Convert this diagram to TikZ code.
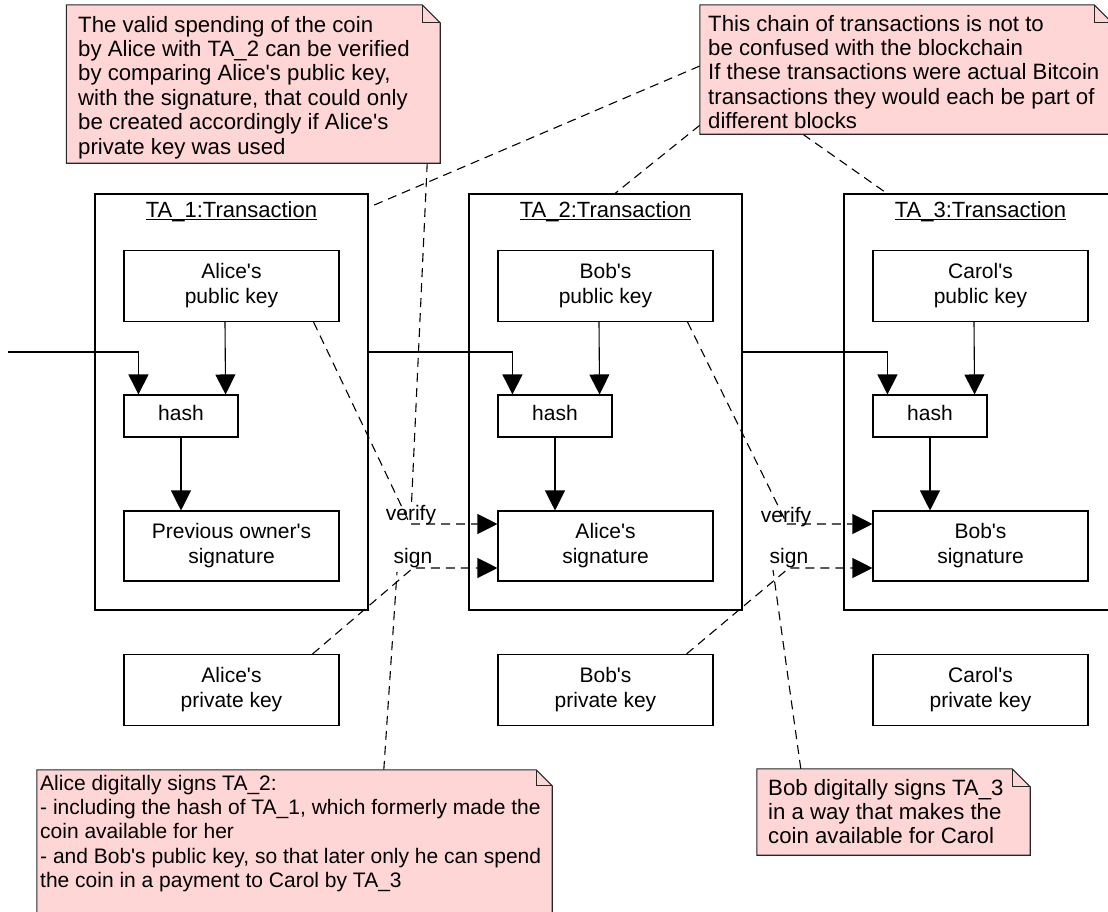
\documentclass[tikz,border=0pt]{standalone}
\usepackage{fontspec}
\setmainfont{Liberation Sans}
\usetikzlibrary{arrows.meta}
\definecolor{notepink}{RGB}{255,214,214}
\newcommand\dfont{\fontsize{21pt}{24.4pt}\selectfont}
\newcommand\nfont{\fontsize{22.2pt}{24.4pt}\selectfont}
\newcommand\tfont{\fontsize{22pt}{24.4pt}\selectfont}
\newcommand\q{\textquotesingle}
\newcommand\bx[1]{\raisebox{3pt}{\begin{tabular}{@{}c@{}}#1\end{tabular}}}
\newcommand\nt[1]{\begin{tabular}[t]{@{}l@{}}#1\end{tabular}}
\newcommand\ulin[1]{\setbox0\hbox{#1}\rlap{\rule[-2.5pt]{\wd0}{1pt}}\box0}
\newcommand\notepath[2]{%
  \draw[notebg] (#1.south west) -- (#1.north west) -- ([xshift=-#2]#1.north east)
    -- ([yshift=-#2]#1.north east) -- (#1.south east) -- cycle;
  \draw[notefold] ([xshift=-#2]#1.north east) -- ([xshift=-#2,yshift=-#2]#1.north east)
    -- ([yshift=-#2]#1.north east);}
\tikzset{
  tabox/.style={draw, line width=1.1pt, minimum width=273pt, minimum height=416pt, inner sep=0pt},
  kbox/.style={draw, line width=1.1pt, minimum width=215pt, minimum height=71pt, inner sep=0pt, font=\dfont},
  hbox/.style={draw, line width=1.1pt, minimum width=114pt, minimum height=42pt, inner sep=0pt, font=\dfont},
  tip/.style={-{Triangle[width=20pt,length=20pt]}},
  arr/.style={line width=1.1pt, tip},
  darr/.style={line width=1.1pt, dash pattern=on 9pt off 6pt, tip},
  dline/.style={line width=1.1pt, dash pattern=on 9pt off 6pt},
  notenode/.style={inner sep=0pt},
  notebg/.style={draw=black!85, line width=1.1pt, fill=notepink},
  notefold/.style={draw=black!85, line width=1.1pt},
  notetext/.style={font=\nfont, inner sep=0pt, anchor=base west},
  lbl/.style={font=\dfont, inner sep=0pt, anchor=base},
  ttl/.style={font=\tfont, inner sep=0pt, anchor=base},
}
\begin{document}
\begin{tikzpicture}[x=1pt,y=-1pt]
\useasboundingbox (0,0) rectangle (1108,911);
\clip (0,0) rectangle (1108,911);

% transactions
\node[tabox] (ta1) at (231.5,402) {};
\node[tabox] (ta2) at (605.5,402) {};
\node[tabox] (ta3) at (980.5,402) {};
\node[ttl] (t1) at (231.5,217) {\ulin{TA\_1:Transaction}};
\node[ttl] (t2) at (605.5,217) {\ulin{TA\_2:Transaction}};
\node[ttl] (t3) at (980.5,217) {\ulin{TA\_3:Transaction}};

% public keys
\node[kbox] (pk1) at (231.5,286) {\bx{Alice\q s\\public key}};
\node[kbox] (pk2) at (605.5,286) {\bx{Bob\q s\\public key}};
\node[kbox] (pk3) at (980.5,286) {\bx{Carol\q s\\public key}};
% hashes
\node[hbox] (h1) at (181,416) {\bx{hash}};
\node[hbox] (h2) at (555,416) {\bx{hash}};
\node[hbox] (h3) at (930,416) {\bx{hash}};
% signatures
\node[kbox, minimum height=70pt] (s1) at (231.5,546) {\bx{Previous owner\q s\\signature}};
\node[kbox, minimum height=70pt] (s2) at (605.5,546) {\bx{Alice\q s\\signature}};
\node[kbox, minimum height=70pt] (s3) at (980.5,546) {\bx{Bob\q s\\signature}};
% private keys
\node[kbox] (k1) at (231.5,690) {\bx{Alice\q s\\private key}};
\node[kbox] (k2) at (605.5,690) {\bx{Bob\q s\\private key}};
\node[kbox] (k3) at (980.5,690) {\bx{Carol\q s\\private key}};

% notes (frames)
\node[notenode, minimum width=373.5pt, minimum height=158pt] (n1) at (253.25,84) {};
\node[notenode, minimum width=412pt, minimum height=129pt] (n2) at (906,69.5) {};
\node[notenode, minimum width=515pt, minimum height=145pt] (n3) at (294.5,842.5) {};
\node[notenode, minimum width=273pt, minimum height=86pt] (n4) at (893.5,812) {};

% chain arrows
\coordinate (in0) at (8,352);
\draw[arr] (in0) -| ([xshift=15pt]h1.north west);
\draw[arr] (ta1.east |- in0) -| ([xshift=15pt]h2.north west);
\draw[arr] (ta2.east |- in0) -| ([xshift=15pt]h3.north west);

% inside transactions
\draw[arr] ([xshift=-6.5pt]pk1.south) -- ([xshift=-13pt]h1.north east);
\draw[arr] ([xshift=-6.5pt]pk2.south) -- ([xshift=-13pt]h2.north east);
\draw[arr] ([xshift=-6.5pt]pk3.south) -- ([xshift=-13pt]h3.north east);
\draw[arr] (h1.south) -- (h1.south |- s1.north);
\draw[arr] (h2.south) -- (h2.south |- s2.north);
\draw[arr] (h3.south) -- (h3.south |- s3.north);

% verify / sign links
\coordinate (vb2) at (410,524);
\coordinate (sb2) at (413,568);
\coordinate (vb3) at (787,524);
\coordinate (sb3) at (789,568);
\draw[darr] ([xshift=-26pt]pk1.south east) -- (vb2) -- (vb2 -| s2.west);
\draw[darr] ([xshift=-27pt]k1.north east) -- (sb2) -- (sb2 -| s2.west);
\draw[darr] ([xshift=-26pt]pk2.south east) -- (vb3) -- (vb3 -| s3.west);
\draw[darr] ([xshift=-27pt]k2.north east) -- (sb3) -- (sb3 -| s3.west);
\node[lbl] (lv2) at (411,520) {verify};
\node[lbl] (ls2) at (413,563) {sign};
\node[lbl] (lv3) at (786,522) {verify};
\node[lbl] (ls3) at (789,563) {sign};

% note anchors
\draw[dline] ([xshift=-13pt]n1.south east) -- (lv2);
\draw[dline] ([yshift=3.5pt]n2.west) -- ([yshift=-14pt]ta1.north east);
\draw[dline] ([yshift=9pt]n2.south west) -- ([xshift=9.5pt]ta2.north);
\draw[dline] ([xshift=103pt]n2.south west) -- ([xshift=-93.5pt]ta3.north);
\draw[dline] ([xshift=347pt]n3.north west) -- ([shift={(-16pt,-4pt)}]sb2);
\draw[dline] ([xshift=44pt]n4.north west) -- ([shift={(-16pt,-2pt)}]sb3);

% notes
\notepath{n1}{18pt}
\notepath{n2}{18pt}
\notepath{n3}{16pt}
\notepath{n4}{18pt}
\node[notetext] (n1t) at (78,32) {\nt{The valid spending of the coin\\by Alice with TA\_2 can be verified\\by comparing Alice\q s public key,\\with the signature, that could only\\be created accordingly if Alice\q s\\private key was used}};
\node[notetext] (n2t) at (708,31) {\nt{This chain of transactions is not to\\be confused with the blockchain\\If these transactions were actual Bitcoin\\transactions they would each be part of\\different blocks}};
\node[notetext, font=\dfont] (n3t) at (40,790) {\nt{Alice digitally signs TA\_2:\\- including the hash of TA\_1, which formerly made the\\coin available for her\\- and Bob\q s public key, so that later only he can spend\\the coin in a payment to Carol by TA\_3}};
\node[notetext] (n4t) at (768,795) {\nt{Bob digitally signs TA\_3\\in a way that makes the\\coin available for Carol}};
\end{tikzpicture}
\end{document}
